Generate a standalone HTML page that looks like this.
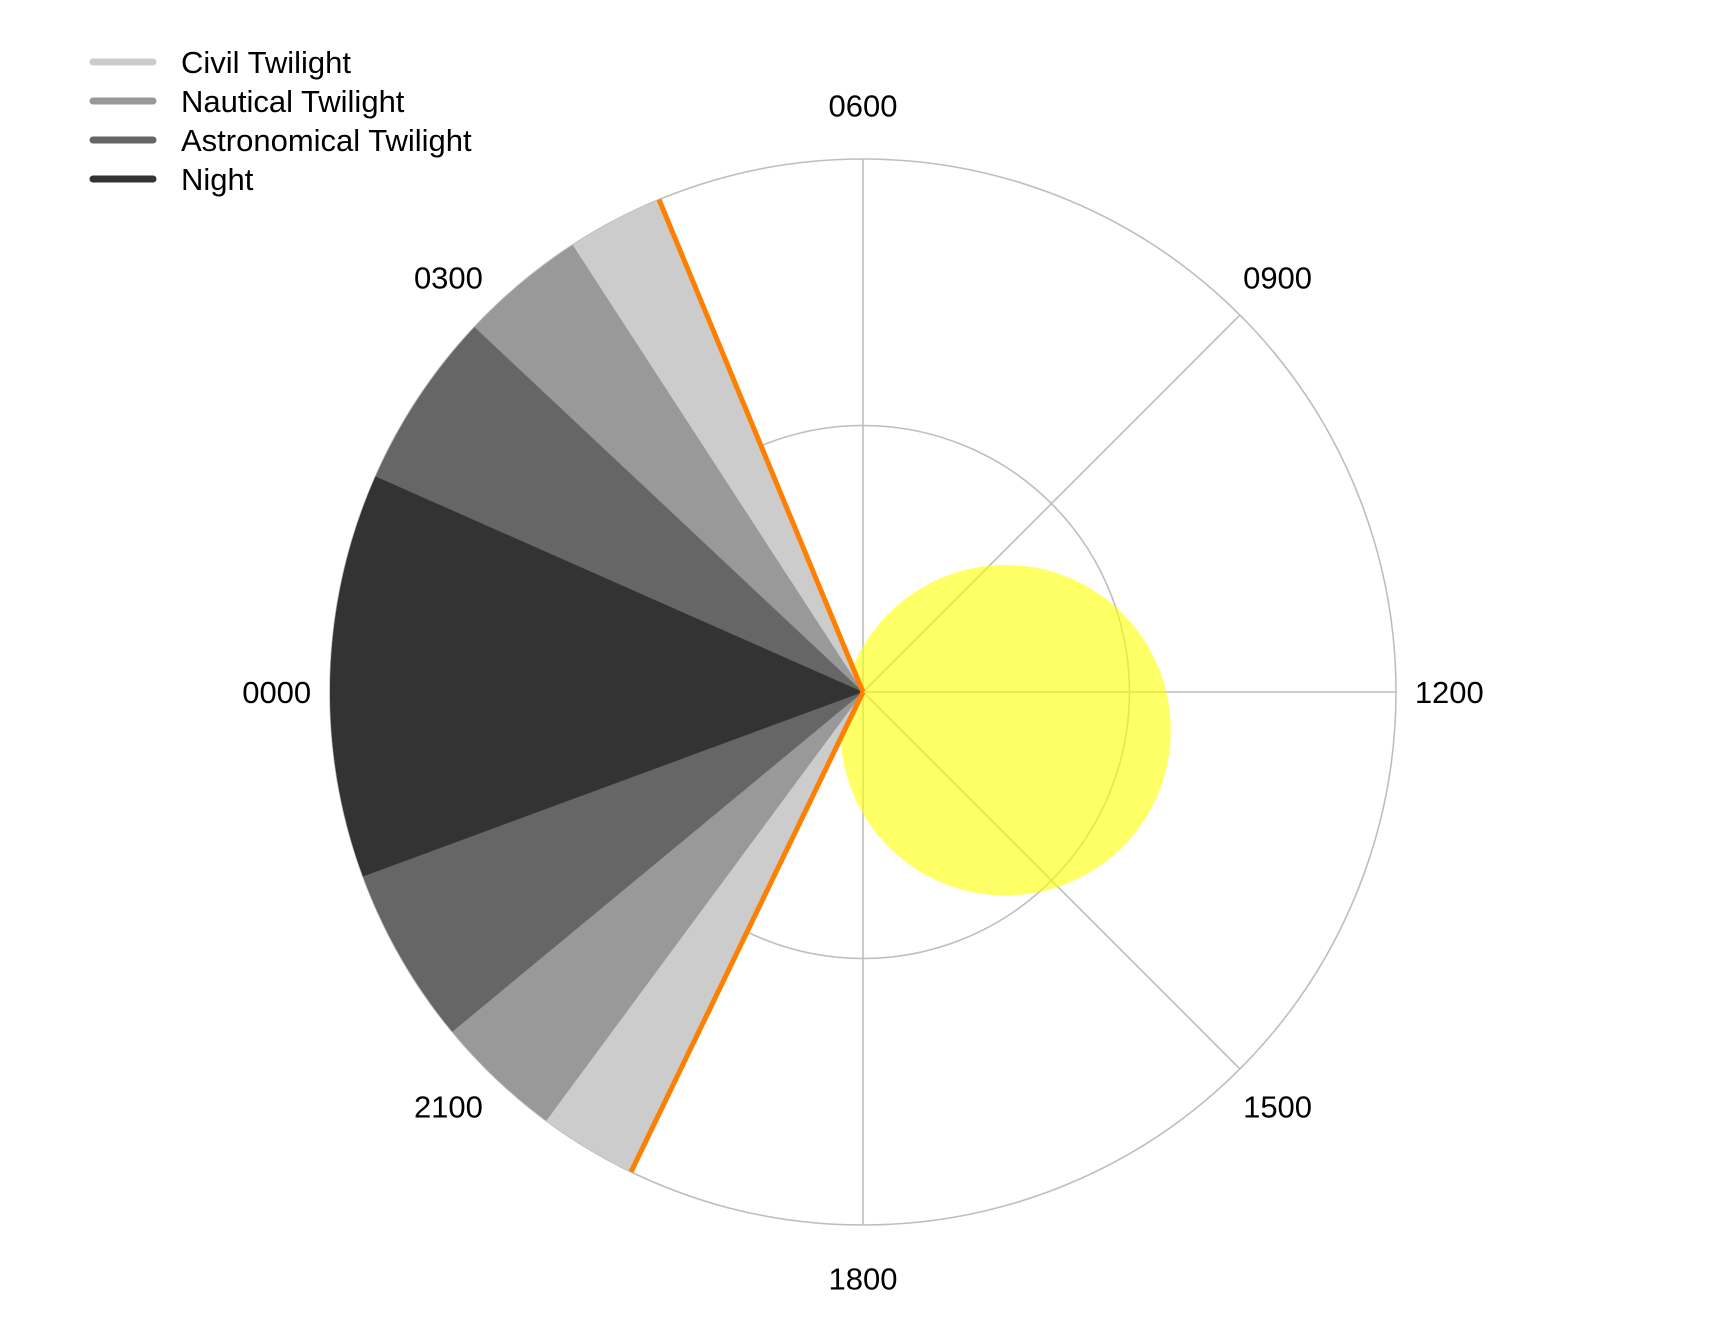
<!DOCTYPE html>
<html><head><meta charset="utf-8"><style>
html,body{margin:0;padding:0;background:#fff;}
svg{display:block;font-family:"Liberation Sans",sans-serif;}
</style></head><body>
<svg id="chart" width="1728" height="1344" viewBox="0 0 1728 1344">
<g id="grid"></g>
<g id="sun"></g>
<g id="wedges"></g>
<g id="labels"></g>
<g id="legend"></g>
</svg>
<script>
const categories = ["Night","Astronomical Twilight","Nautical Twilight","Civil Twilight"];
const colors = ["#333333","#666666","#999999","#cccccc"];
const bandStart = [22.65, 21.36, 20.43, 19.72];
const bandEnd = [1.59, 2.88, 3.80, 4.50];
const sunrise = 4.50;
const sunset = 19.72;
const sunHour = 13.0;
const sunDist = 0.277;
const sunRadius = 0.31;
const tickHours = [0,3,6,9,12,15,18,21];
const tickLabels = ["0000","0300","0600","0900","1200","1500","1800","2100"];
const legendLabels = ["Civil Twilight","Nautical Twilight","Astronomical Twilight","Night"];
const legendColors = ["#cccccc","#999999","#666666","#333333"];

const NS="http://www.w3.org/2000/svg";
const cx=863, cy=692, R=533;
function pt(h,r){const a=h*15*Math.PI/180;return [cx-Math.cos(a)*r*R, cy-Math.sin(a)*r*R];}
function mk(tag,attrs,parent){const e=document.createElementNS(NS,tag);for(const k in attrs)e.setAttribute(k,attrs[k]);parent.appendChild(e);return e;}
const grid=document.getElementById('grid');
[0.5,1].forEach((r,i)=>{
 const c=mk('circle',{cx:cx,cy:cy,r:r*R,fill:'none',stroke:'#bebebe','stroke-width':1.6},grid);
 
 
});
tickHours.forEach(h=>{
 const p=pt(h,1);
 const l=mk('line',{x1:cx,y1:cy,x2:p[0],y2:p[1],stroke:'#bebebe','stroke-width':1.6},grid);
 
 
});
const sp=pt(sunHour,sunDist);
const sc=mk('circle',{cx:sp[0],cy:sp[1],r:sunRadius*R,fill:'#ffff00','fill-opacity':0.6},document.getElementById('sun'));


const wg=document.getElementById('wedges');
for(let i=categories.length-1;i>=0;i--){
 let s=bandStart[i], e=bandEnd[i]+24;
 const n=60;let d='M'+cx+','+cy;
 for(let k=0;k<=n;k++){const h=s+(e-s)*k/n;const p=pt(h,1);d+=' L'+p[0].toFixed(2)+','+p[1].toFixed(2);}
 d+=' Z';
 const w=mk('path',{d:d,fill:colors[i]},wg);
 
 
}
[sunrise,sunset].forEach((h,i)=>{
 const p=pt(h,1);
 const l=mk('line',{x1:cx,y1:cy,x2:p[0],y2:p[1],stroke:'#ff7f00','stroke-width':5},wg);
 
 
});
const lg=document.getElementById('labels');
tickHours.forEach((h,i)=>{
 const p=pt(h,1.1);
 const t=mk('text',{x:p[0],y:p[1]+11,'text-anchor':'middle','font-size':31,fill:'#000'},lg);
 t.textContent=tickLabels[i];
 
 
});
const lgd=document.getElementById('legend');
legendLabels.forEach((lab,i)=>{
 const y=62+i*39;
 const l=mk('line',{x1:93,y1:y,x2:153,y2:y,stroke:legendColors[i],'stroke-width':7,'stroke-linecap':'round'},lgd);
 
 
 const t=mk('text',{x:181,y:y+11,'font-size':31,fill:'#000'},lgd);
 t.textContent=lab;
 
 
});
</script>
</body></html>
